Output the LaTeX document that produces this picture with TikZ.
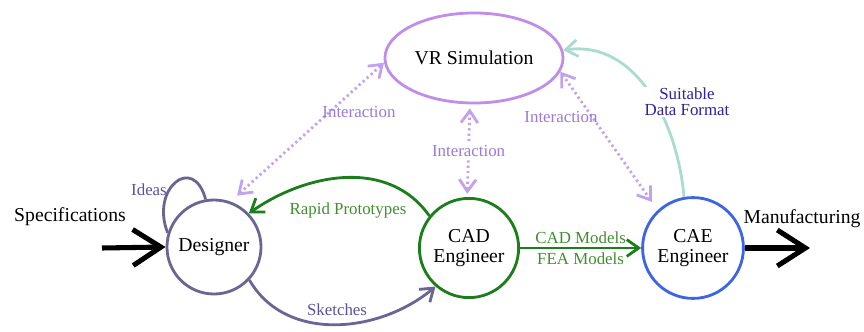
\documentclass[tikz,border=0pt]{standalone}
\usepackage{fontspec}
\setmainfont{Liberation Serif}
\usetikzlibrary{arrows.meta,shapes.geometric,positioning}

\definecolor{descol}{HTML}{6B6594}
\definecolor{deslab}{HTML}{5A539E}
\definecolor{cadcol}{HTML}{1B7D1B}
\definecolor{cadlab}{HTML}{3F8F2F}
\definecolor{caecol}{HTML}{3D63E6}
\definecolor{vrcol}{HTML}{C08EE8}
\definecolor{intcol}{HTML}{C2A2EE}
\definecolor{intlab}{HTML}{9A7AD8}
\definecolor{fmtcol}{HTML}{A9DCCF}
\definecolor{fmtlab}{HTML}{2E22A0}

\tikzset{
  bigfont/.style={font=\fontsize{14}{16}\selectfont},
  smallfont/.style={font=\fontsize{12}{13.5}\selectfont},
  role/.style={draw, circle, line width=2pt, inner sep=0pt, bigfont, align=center},
  bigarrow/.style={line width=3.6pt, -{Straight Barb[length=0.7cm, width=0.9cm]}},
  flow/.style={line width=2pt, -{Straight Barb[length=0.3cm, width=0.42cm]}},
  interarrow/.style={intcol, line width=2pt, dash pattern=on 1.6pt off 2.2pt,
    {Straight Barb[length=0.3cm, width=0.42cm]}-{Straight Barb[length=0.3cm, width=0.42cm]}}
}

\begin{document}
\begin{tikzpicture}[x=0.025cm, y=0.025cm]
\useasboundingbox (0, 0) rectangle (864, 331);

% people and the simulation
\node[role, descol, text=black, minimum size=2.35cm] at (214, 84) (des) {Designer};
\node[role, cadcol, text=black, minimum size=2.48cm] at (469, 83) (cad) {CAD\\[-2pt]Engineer};
\node[role, caecol, text=black, minimum size=2.52cm] at (693, 83) (cae) {CAE\\[-2pt]Engineer};
\node[draw, ellipse, vrcol, line width=2pt, text=black, bigfont, minimum width=4.45cm, minimum height=2.25cm, inner sep=0pt] at (474, 273) (vr) {VR Simulation};

% input and output
\node[bigfont] at (70, 114) (spec) {Specifications};
\node[bigfont] at (802, 112) (manu) {Manufacturing};
\coordinate (specin) at (102, 83);
\coordinate (manuout) at (810, 83);
\draw[bigarrow] (specin) -- (des.west);
\draw[bigarrow] (cae.east) -- (manuout);

% ideas
\node[smallfont, text=deslab] at (149, 141) (ideas) {Ideas};
\draw[descol, line width=2pt] (des.163) to[out=112, in=105, looseness=2.4] (des.100);

% designer and cad engineer
\draw[flow, cadcol] (cad.141) to[out=125, in=35] (des.44);
\node[smallfont, text=cadlab] at (348, 121) (rapid) {Rapid Prototypes};
\draw[flow, descol] (des.-43) to[out=-60, in=-140] (cad.229);
\node[smallfont, text=deslab] at (337, 21) (sketch) {Sketches};

% cad engineer to cae engineer
\draw[flow, cadcol] (cad.east) -- (cae.west)
  node[midway, above, smallfont, text=cadlab, yshift=-1pt] {CAD Models}
  node[midway, below, smallfont, text=cadlab, yshift=1pt] {FEA Models};

% interaction with the simulation
\draw[interarrow, shorten <=0.22cm] (des.70) -- (vr.183);
\node[smallfont, text=intlab] at (359, 219) (intdes) {Interaction};
\draw[interarrow, shorten <=0.1cm, shorten >=0.08cm] (vr.265) -- (cad.92)
  node[midway, fill=white, inner sep=1pt, smallfont, text=intlab] (intcad) {Interaction};
\draw[interarrow, shorten >=0.25cm] (vr.351) -- (cae.133);
\node[smallfont, text=intlab] at (561, 214) (intcae) {Interaction};

% data format
\draw[flow, fmtcol] (cae.100) to[out=95, in=8] (vr.5);
\node[smallfont, text=fmtlab, fill=white, inner sep=1pt, align=center] at (687, 229) (fmt) {Suitable\\[-2pt]Data Format};

\end{tikzpicture}
\end{document}
